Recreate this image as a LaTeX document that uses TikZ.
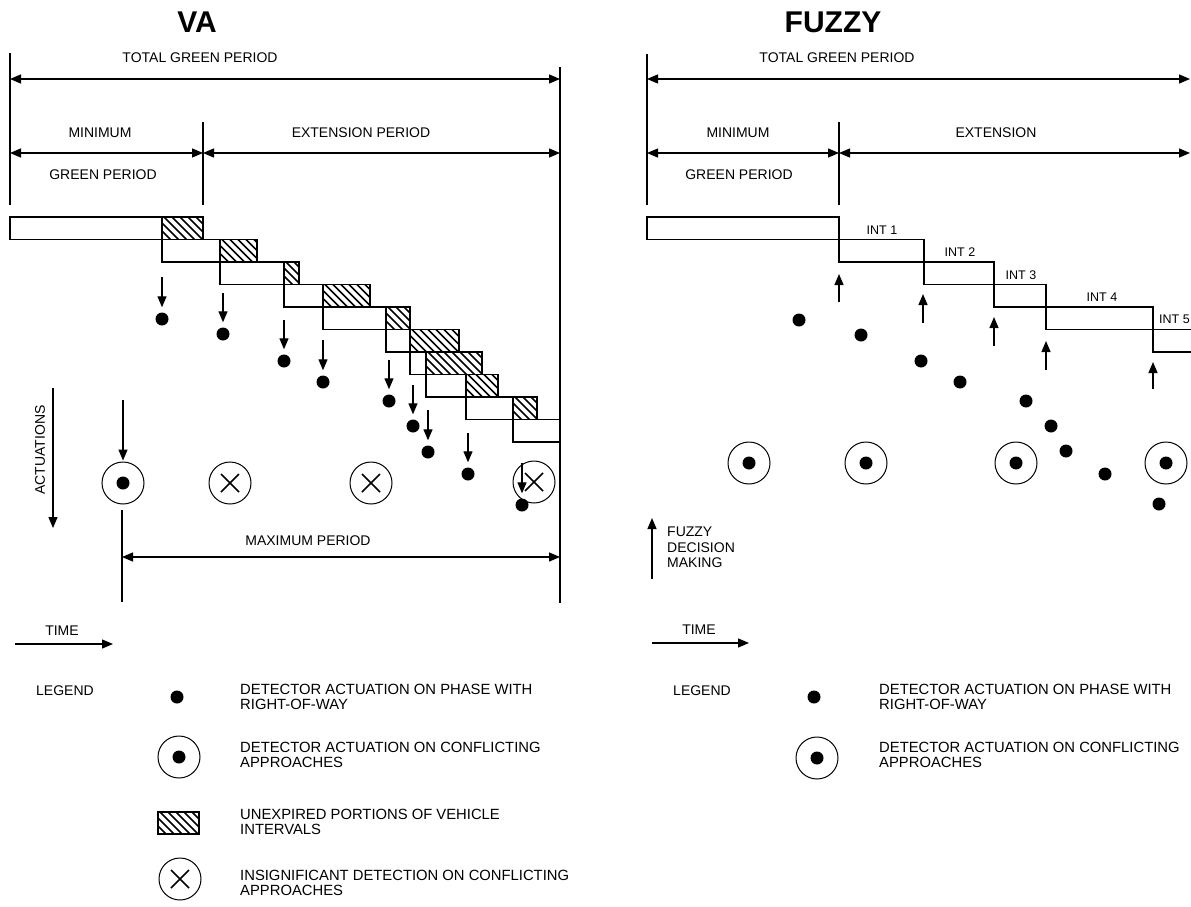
\documentclass[tikz,border=0pt]{standalone}
\usepackage{fontspec}
\setmainfont{Liberation Sans}
\usetikzlibrary{arrows.meta,calc}
\newcommand{\hatchrect}[4]{%
  \begin{scope}
    \clip (#1,#2) rectangle (#3,#4);
    \foreach \k in {-32,-24,...,64}{\draw[line width=1.7pt] ({#1+\k},{#2-2}) -- ++(30,30);}
  \end{scope}}
\tikzset{
  lab/.style={font=\fontsize{14}{16}\selectfont,inner sep=0pt},
  leg/.style={font=\fontsize{14.8}{15}\selectfont,inner sep=0pt,align=left,anchor=west},
  ttl/.style={font=\fontsize{30}{32}\selectfont\bfseries,inner sep=0pt},
  intl/.style={font=\fontsize{12.5}{14}\selectfont,inner sep=0pt},
  ln/.style={line width=1.3pt},
  >={Triangle[length=11pt,width=9pt]},
  arr/.style={ln,->},
  dim/.style={ln,<->},
  dotn/.style={circle,fill,minimum size=13pt,inner sep=0pt},
  cdot/.style={circle,draw,line width=1pt,minimum size=42pt,inner sep=0pt,
    path picture={\fill (path picture bounding box.center) circle (6.5pt);}},
  xcirc/.style={circle,draw,line width=1pt,minimum size=42pt,inner sep=0pt,
    path picture={\draw[line width=1.7pt]
      ([shift={(-9pt,-9pt)}]path picture bounding box.center) -- ([shift={(9pt,9pt)}]path picture bounding box.center)
      ([shift={(-9pt,9pt)}]path picture bounding box.center) -- ([shift={(9pt,-9pt)}]path picture bounding box.center);}},
}
\begin{document}
\begin{tikzpicture}[x=1pt,y=-1pt]
\useasboundingbox (0,0) rectangle (1191,907);

% ================= VA =================
\node[ttl] (vatitle) at (197,22) {VA};
\node[lab] (vatotal) at (200,58) {TOTAL GREEN PERIOD};
\node[lab] (vamin) at (100,133) {MINIMUM};
\node[lab] (vagreen) at (103,175) {GREEN PERIOD};
\node[lab] (vaext) at (361,133) {EXTENSION PERIOD};

\coordinate (vaLtop) at (10,53);
\coordinate (vaLbot) at (10,205);
\coordinate (vaDtop) at (203,122);
\coordinate (vaDbot) at (203,205);
\coordinate (vaRtop) at (560,67);
\coordinate (vaRbot) at (560,603);
\draw[ln] (vaLtop) -- (vaLbot);
\draw[ln] (vaDtop) -- (vaDbot);
\draw[ln] (vaRtop) -- (vaRbot);

\coordinate (vaT1) at (10,79);
\coordinate (vaT2) at (560,79);
\draw[dim] (vaT1) -- (vaT2);
\coordinate (vaM1) at (10,153);
\coordinate (vaM2) at (203,153);
\coordinate (vaM3) at (560,153);
\draw[dim] (vaM1) -- (vaM2);
\draw[dim] (vaM2) -- (vaM3);

% staircase of vehicle intervals
\hatchrect{162}{217}{203}{239.5}
\hatchrect{220}{239.5}{257}{262}
\hatchrect{284}{262}{299}{284.5}
\hatchrect{323}{284.5}{370}{307}
\hatchrect{386}{307}{410}{329.5}
\hatchrect{410}{329.5}{459}{352}
\hatchrect{426}{352}{482}{374.5}
\hatchrect{466}{374.5}{498}{397}
\hatchrect{513}{397}{537}{419.5}
\draw[ln] (10,217) rectangle (203,239.5);
\draw[ln] (162,239.5) rectangle (257,262);
\draw[ln] (220,262) rectangle (299,284.5);
\draw[ln] (284,284.5) rectangle (370,307);
\draw[ln] (323,307) rectangle (410,329.5);
\draw[ln] (386,329.5) rectangle (459,352);
\draw[ln] (410,352) rectangle (482,374.5);
\draw[ln] (426,374.5) rectangle (498,397);
\draw[ln] (466,397) rectangle (537,419.5);
\draw[ln] (513,419.5) rectangle (560,442);
\draw[ln] (162,217) -- (162,239.5);
\draw[ln] (220,239.5) -- (220,262);
\draw[ln] (284,262) -- (284,284.5);
\draw[ln] (323,284.5) -- (323,307);
\draw[ln] (386,307) -- (386,329.5);
\draw[ln] (410,329.5) -- (410,352);
\draw[ln] (426,352) -- (426,374.5);
\draw[ln] (466,374.5) -- (466,397);
\draw[ln] (513,397) -- (513,419.5);

% circles
\node[cdot] (vac1) at (123,483) {};
\node[xcirc] (vax1) at (230,483) {};
\node[xcirc] (vax2) at (371,483) {};
\node[xcirc] (vax3) at (534,482) {};

% actuations
\foreach \i/\x/\ya/\yd in {1/162/277/319, 2/223/293/334, 3/284/320/361, 4/323/340/382, 5/389/360/401, 6/413/385/426, 7/428/410/452, 8/468/433/474, 9/522/463/505}{
  \node[dotn] (vad\i) at (\x,\yd) {};
  \coordinate (vaa\i) at (\x,\ya);
  \draw[arr,shorten >=5pt] (vaa\i) -- (vad\i);
}
\coordinate (vac1a) at (123,400);
\draw[arr,shorten >=1pt] (vac1a) -- (vac1);

% maximum period
\coordinate (vaMaxTop) at (122,510);
\coordinate (vaMaxBot) at (122,602);
\draw[ln] (vaMaxTop) -- (vaMaxBot);
\coordinate (vaX1) at (122,557);
\coordinate (vaX2) at (560,557);
\draw[dim] (vaX1) -- (vaX2);
\node[lab] (vamax) at (308,541) {MAXIMUM PERIOD};

% axes
\node[lab,rotate=90] (vaact) at (40,450) {ACTUATIONS};
\coordinate (vaAc1) at (53,388);
\coordinate (vaAc2) at (53,528);
\draw[arr] (vaAc1) -- (vaAc2);
\node[lab] (vatime) at (62,631) {TIME};
\coordinate (vaTi1) at (15,644);
\coordinate (vaTi2) at (113,644);
\draw[arr] (vaTi1) -- (vaTi2);

% legend
\node[lab] (valeg) at (65,691) {LEGEND};
\node[dotn] (valdot) at (177,697) {};
\node[leg] (valdott) at (240,697) {DETECTOR ACTUATION ON PHASE WITH\\RIGHT-OF-WAY};
\node[cdot] (valcd) at (179,757) {};
\node[leg] (valcdt) at (240,755) {DETECTOR ACTUATION ON CONFLICTING\\APPROACHES};
\hatchrect{158}{812}{199}{834}
\draw[ln] (158,812) rectangle (199,834);
\node[leg] (valht) at (240,822) {UNEXPIRED PORTIONS OF VEHICLE\\INTERVALS};
\node[xcirc] (valx) at (180,879) {};
\node[leg] (valxt) at (240,883) {INSIGNIFICANT DETECTION ON CONFLICTING\\APPROACHES};

% ================= FUZZY =================
\node[ttl] (fztitle) at (833,22) {FUZZY};
\node[lab] (fztotal) at (837,58) {TOTAL GREEN PERIOD};
\node[lab] (fzmin) at (738,133) {MINIMUM};
\node[lab] (fzgreen) at (739,175) {GREEN PERIOD};
\node[lab] (fzext) at (996,133) {EXTENSION};

\coordinate (fzLtop) at (647,54);
\coordinate (fzLbot) at (647,205);
\coordinate (fzDtop) at (839,122);
\coordinate (fzDbot) at (839,205);
\draw[ln] (fzLtop) -- (fzLbot);
\draw[ln] (fzDtop) -- (fzDbot);
\coordinate (fzT1) at (647,79);
\coordinate (fzT2) at (1190,79);
\draw[dim] (fzT1) -- (fzT2);
\coordinate (fzM1) at (647,153);
\coordinate (fzM2) at (839,153);
\coordinate (fzM3) at (1190,153);
\draw[dim] (fzM1) -- (fzM2);
\draw[dim] (fzM2) -- (fzM3);

% intervals
\draw[ln] (647,217) rectangle (839,239.5);
\draw[ln] (839,239.5) rectangle (924,262);
\draw[ln] (924,262) rectangle (994,284.5);
\draw[ln] (994,284.5) rectangle (1046,307);
\draw[ln] (1046,307) rectangle (1153,329.5);
\draw[ln] (1191.5,329.5) -- (1153,329.5) -- (1153,352) -- (1191.5,352);
\node[intl] (int1) at (882,230) {INT 1};
\node[intl] (int2) at (960,252) {INT 2};
\node[intl] (int3) at (1021,275) {INT 3};
\node[intl] (int4) at (1102,297) {INT 4};
\node[intl,anchor=west] (int5) at (1159,319) {INT 5};

% decision arrows
\foreach \i/\x/\yt/\yh in {1/839/302/274, 2/923/323/294, 3/994/346/317, 4/1046/370/341, 5/1153/389/362}{
  \coordinate (fzu\i) at (\x,\yt);
  \coordinate (fzv\i) at (\x,\yh);
  \draw[arr] (fzu\i) -- (fzv\i);
}

% actuations
\foreach \i/\x/\y in {1/799/320, 2/861/335, 3/921/361, 4/960/382, 5/1026/401, 6/1051/426, 7/1066/451, 8/1105/474, 9/1159/504}{
  \node[dotn] (fzd\i) at (\x,\y) {};
}
\node[cdot] (fzc1) at (749,463) {};
\node[cdot] (fzc2) at (866,463) {};
\node[cdot] (fzc3) at (1016,463) {};
\node[cdot] (fzc4) at (1166,463) {};

% axes
\coordinate (fzF1) at (652,579);
\coordinate (fzF2) at (652,518);
\draw[arr] (fzF1) -- (fzF2);
\node[lab,anchor=north west,align=left,font=\fontsize{14}{15.5}\selectfont] (fzfdm) at (667,527) {FUZZY\\DECISION\\MAKING};
\node[lab] (fztime) at (699,630) {TIME};
\coordinate (fzTi1) at (652,643);
\coordinate (fzTi2) at (749,643);
\draw[arr] (fzTi1) -- (fzTi2);

% legend
\node[lab] (fzleg) at (702,691) {LEGEND};
\node[dotn] (fzldot) at (814,697) {};
\node[leg] (fzldott) at (879,697) {DETECTOR ACTUATION ON PHASE WITH\\RIGHT-OF-WAY};
\node[cdot] (fzlcd) at (817,758) {};
\node[leg] (fzlcdt) at (879,755) {DETECTOR ACTUATION ON CONFLICTING\\APPROACHES};
\end{tikzpicture}
\end{document}
